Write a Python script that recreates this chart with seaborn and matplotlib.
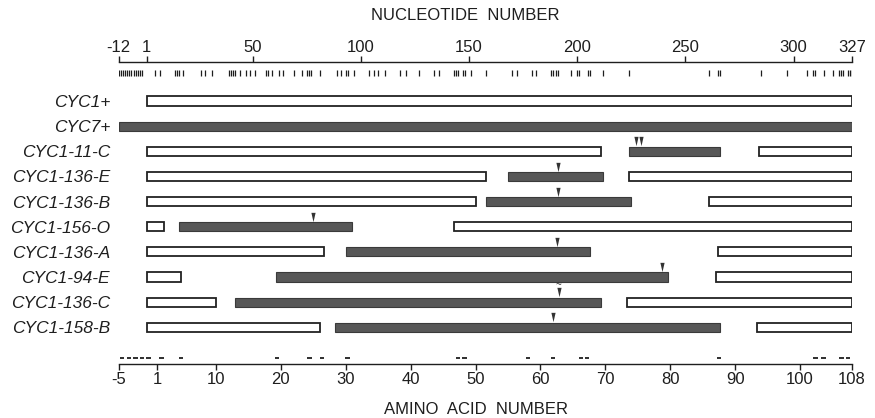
import matplotlib
matplotlib.use('Agg')
import matplotlib.pyplot as plt
import pandas as pd
import seaborn as sns

# strains, top to bottom
strains = ['CYC1+', 'CYC7+', 'CYC1-11-C', 'CYC1-136-E', 'CYC1-136-B',
           'CYC1-156-O', 'CYC1-136-A', 'CYC1-94-E', 'CYC1-136-C', 'CYC1-158-B']

# sequence segments (nucleotide numbers) and where they come from
seg_row = [0, 1, 2, 2, 2, 3, 3, 3, 4, 4, 4, 5, 5, 5, 6, 6, 6, 7, 7, 7, 8, 8, 8, 9, 9, 9]
seg_start = [1, -12, 1, 224, 284, 1, 168, 224, 1, 158, 261, 1, 16, 143,
             1, 93, 265, 1, 61, 264, 1, 42, 223, 1, 88, 283]
seg_end = [327, 327, 211, 266, 327, 158, 212, 327, 153, 225, 327, 9, 96, 327,
           83, 206, 327, 17, 242, 327, 33, 211, 327, 81, 266, 327]
seg_src = ['CYC1', 'CYC7', 'CYC1', 'CYC7', 'CYC1', 'CYC1', 'CYC7', 'CYC1',
           'CYC1', 'CYC7', 'CYC1', 'CYC1', 'CYC7', 'CYC1', 'CYC1', 'CYC7', 'CYC1',
           'CYC1', 'CYC7', 'CYC1', 'CYC1', 'CYC7', 'CYC1', 'CYC1', 'CYC7', 'CYC1']

# arrowheads (nucleotide numbers)
arrow_row = [2, 2, 3, 4, 5, 6, 7, 8, 9]
arrow_nt = [227, 229.5, 191, 191, 78, 190.5, 239, 191.5, 189]

# nucleotide differences (top) and amino acid differences (bottom)
nt_diff = [-12, -11, -10, -9, -8, -7, -6, -5, -4, -3, -2, -1, 5, 7, 14, 15, 16, 18,
           26, 28, 31, 39, 40, 41, 42, 44, 47, 49, 51, 56, 57, 59, 62, 64, 69, 73,
           75, 76, 77, 81, 89, 91, 93, 94, 97, 104, 106, 108, 111, 118, 121, 127,
           134, 136, 143, 144, 145, 147, 148, 151, 158, 170, 172, 179, 181, 188,
           189, 190, 191, 197, 200, 201, 205, 206, 212, 224, 261, 265, 266, 285,
           297, 306, 309, 310, 314, 318, 321, 322, 323, 325, 326, 327]
aa_diff = [-4.5, -3.4, -2.4, -1.4, -0.4, 1.6, 4.6, 19.4, 24.4, 26.3, 30.3, 47.3,
           48.3, 58.1, 61.9, 66.2, 67.2, 87.5, 102.4, 103.6, 106.4, 107.4]

nt_ticks = [-12, 1, 50, 100, 150, 200, 250, 300, 327]
aa_ticks = [-5, 1, 10, 20, 30, 40, 50, 60, 70, 80, 90, 100, 108]


def aa_to_nt(a):
    return 3 * a + 3


sns.set_theme(style='white')
plt.rcParams['font.family'] = ['Liberation Sans', 'DejaVu Sans']
ink = '#1e1e1e'

W, H = 875, 418
fig = plt.figure(figsize=(W / 100, H / 100), dpi=100)
x0, x1 = 118.5, 852
ytop, ybot = 62.3, 364
ax = fig.add_axes([x0 / W, 1 - ybot / H, (x1 - x0) / W, (ybot - ytop) / H])


def py(px):
    # pixel row -> row units
    return (px - 101) / 25.14


ax.set_xlim(-12, 327)
ax.set_ylim(py(ybot), py(ytop))

segs = pd.DataFrame({'row': seg_row, 'start': seg_start, 'end': seg_end, 'src': seg_src})
bh = 0.36
c1 = segs[segs.src == 'CYC1']
c7 = segs[segs.src == 'CYC7']
ax.barh(c1.row, c1.end - c1.start, left=c1.start, height=bh,
        facecolor='white', edgecolor='#222222', linewidth=1.3)
ax.barh(c7.row, c7.end - c7.start, left=c7.start, height=bh,
        facecolor='#575757', edgecolor='#3a3a3a', linewidth=0.8)

arrows = pd.DataFrame({'nt': arrow_nt, 'y': [r - 0.39 for r in arrow_row]})
tri = [(-0.45, 1), (0.45, 1), (0, -1), (-0.45, 1)]
sns.scatterplot(data=arrows, x='nt', y='y', marker=tri, s=45, color='#333333',
                linewidth=0, ax=ax, legend=False)
ax.text(191.5, 8 - 0.66, '~', fontsize=7, ha='center', va='center', color='#333333')

# nucleotide difference marks under the top axis
ax.vlines(nt_diff, py(69.5), py(76), color=ink, linewidth=0.9)
# amino acid difference dashes above the bottom axis
aa_nt = [aa_to_nt(a) for a in aa_diff]
ax.hlines([py(358)] * len(aa_nt), [n - 1.0 for n in aa_nt], [n + 1.0 for n in aa_nt],
          color=ink, linewidth=1.3)

ax.set_yticks(range(len(strains)), strains, fontsize=12.5, style='italic', color=ink)
ax.tick_params(axis='y', length=0, pad=6)
ax.set_xticks([aa_to_nt(a) for a in aa_ticks], [str(a) for a in aa_ticks])
ax.tick_params(axis='x', direction='out', length=4, width=1, color=ink,
               labelsize=12, labelcolor=ink, pad=2, bottom=True)
ax.set_xlabel('')
ax.set_ylabel('')
for s in ['top', 'left', 'right']:
    ax.spines[s].set_visible(False)
ax.spines['bottom'].set_color(ink)
ax.spines['bottom'].set_linewidth(1)

top = ax.secondary_xaxis('top')
top.set_xticks(nt_ticks, [str(n) for n in nt_ticks])
top.tick_params(direction='out', length=4, width=1, color=ink,
                labelsize=12, labelcolor=ink, pad=1)
top.spines['top'].set_color(ink)
top.spines['top'].set_linewidth(1)

fig.text(465 / W, 1 - 16 / H, 'NUCLEOTIDE  NUMBER', ha='center', va='center',
         fontsize=12, color=ink)
fig.text(476 / W, 1 - 409 / H, 'AMINO  ACID  NUMBER', ha='center', va='center',
         fontsize=12, color=ink)

fig.savefig('out.png', dpi=100)
